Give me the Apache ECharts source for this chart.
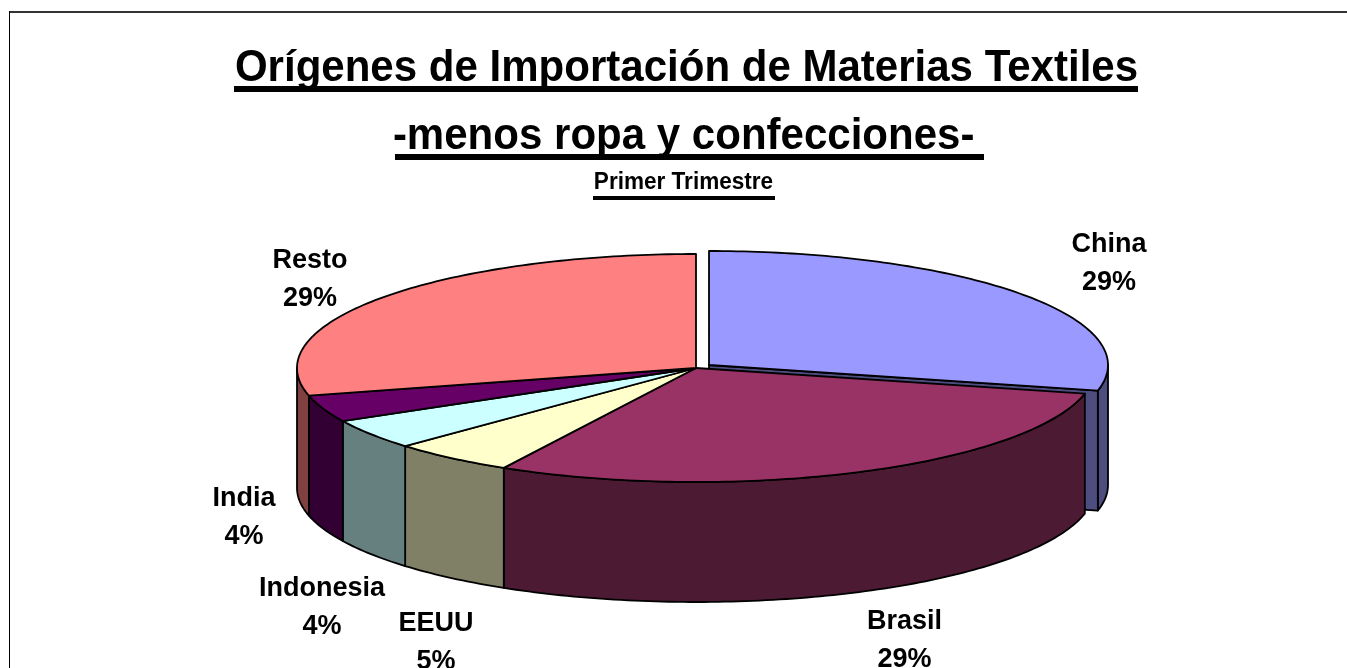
<!DOCTYPE html>
<html>
<head>
<meta charset="utf-8">
<style>
html, body { margin: 0; padding: 0; background: #fff; }
#main { width: 1347px; height: 668px; }
</style>
<script src="https://cdn.jsdelivr.net/npm/echarts@6/dist/echarts.min.js"></script>
</head>
<body>
<div id="main"></div>
<script>
var categories = ['China', 'Brasil', 'EEUU', 'Indonesia', 'India', 'Resto'];
var shares = [28.6, 29.4, 5.0, 4.3, 3.8, 28.9];

var topColors = ['#9999ff', '#993366', '#ffffcc', '#ccffff', '#660066', '#ff8080'];
var sideColors = ['#4d4d80', '#4d1a33', '#808066', '#668080', '#330033', '#804040'];

// pie geometry in pixels
var cx = 696, cy = 368, rx = 399, ry = 114, depth = 120;
var explodeChina = [13, -3];
var labelFont = 'Liberation Sans';
// label centres, same order as categories
var labelSpots = [[1109, 264], [904.5, 641], [436, 643], [322, 608], [244, 518], [310, 280]];

var total = shares.reduce(function (a, b) { return a + b; }, 0);

function pt(ox, oy, deg, drop) {
	var a = deg * Math.PI / 180;
	return [ox + rx * Math.sin(a), oy - ry * Math.cos(a) + (drop || 0)];
}

function arc(ox, oy, from, to, drop) {
	var pts = [];
	var steps = Math.max(2, Math.ceil(to - from));
	for (var i = 0; i <= steps; i++) {
		pts.push(pt(ox, oy, from + (to - from) * i / steps, drop));
	}
	return pts;
}

function face(points, color) {
	return {
		type: 'polygon',
		shape: { points: points },
		style: { fill: color, stroke: '#000', lineWidth: 1.8, lineJoin: 'round' }
	};
}

function renderSlice(params, api) {
	var i = params.dataIndex;
	var before = 0;
	for (var k = 0; k < i; k++) before += shares[k];
	var start = before / total * 360;
	var end = start + api.value(0) / total * 360;
	var ox = cx, oy = cy;
	if (i === 0) {
		ox += explodeChina[0];
		oy += explodeChina[1];
	}
	var kids = [];

	// only the front half of the rim can be seen
	var from = Math.max(start, 90), to = Math.min(end, 270);
	if (to > from) {
		var rim = arc(ox, oy, from, to, 0).concat(arc(ox, oy, from, to, depth).reverse());
		kids.push(face(rim, sideColors[i]));
	}
	// the cut of the pulled out slice
	if (i === 0) {
		var c = pt(ox, oy, end, 0), d = pt(ox, oy, end, depth);
		kids.push(face([[ox, oy], c, d, [ox, oy + depth]], sideColors[i]));
	}
	kids.push(face([[ox, oy]].concat(arc(ox, oy, start, end, 0)), topColors[i]));

	kids.push({
		type: 'text',
		z2: 10,
		style: {
			text: categories[i] + '\n' + Math.round(api.value(0)) + '%',
			x: labelSpots[i][0],
			y: labelSpots[i][1],
			fill: '#000',
			fontFamily: labelFont,
			fontWeight: 'bold',
			fontSize: 27,
			lineHeight: 38,
			align: 'center',
			verticalAlign: 'middle'
		}
	});
	return { type: 'group', children: kids };
}

var myChart = echarts.init(document.getElementById('main'), null, { renderer: 'canvas' });

// the title font is a little narrower than it is tall in the picture, hence scaleX
var titles = [
	{ text: 'Orígenes de Importación de Materias Textiles', x: 686.5, y: 69, size: 45, scaleX: 0.934 },
	{ text: '-menos ropa y confecciones- ', x: 689.5, y: 137, size: 45, scaleX: 0.934 },
	{ text: 'Primer Trimestre', x: 683.5, y: 182.5, size: 23.5, scaleX: 0.96 }
];

var underlines = [
	{ x: 234, y: 86, width: 904, height: 6 },
	{ x: 395, y: 154, width: 589, height: 6 },
	{ x: 593, y: 196, width: 182, height: 4 }
];

var option = {
	animation: false,
	backgroundColor: '#fff',
	graphic: titles.map(function (t) {
		return {
			type: 'text',
			x: t.x,
			y: t.y,
			scaleX: t.scaleX,
			style: {
				text: t.text,
				fill: '#000',
				fontFamily: labelFont,
				fontWeight: 'bold',
				fontSize: t.size,
				align: 'center',
				verticalAlign: 'middle'
			}
		};
	}).concat(underlines.map(function (u) {
		return { type: 'rect', shape: u, style: { fill: '#000' } };
	})).concat([
		{ type: 'rect', shape: { x: 9, y: 11, width: 1338, height: 2 }, style: { fill: '#333' } },
		{ type: 'rect', shape: { x: 9, y: 11, width: 1, height: 657 }, style: { fill: '#000' } }
	]),
	series: [{
		type: 'custom',
		coordinateSystem: 'none',
		silent: true,
		renderItem: renderSlice,
		data: shares.map(function (v, i) { return { name: categories[i], value: [v] }; })
	}]
};

myChart.setOption(option);
</script>
</body>
</html>
